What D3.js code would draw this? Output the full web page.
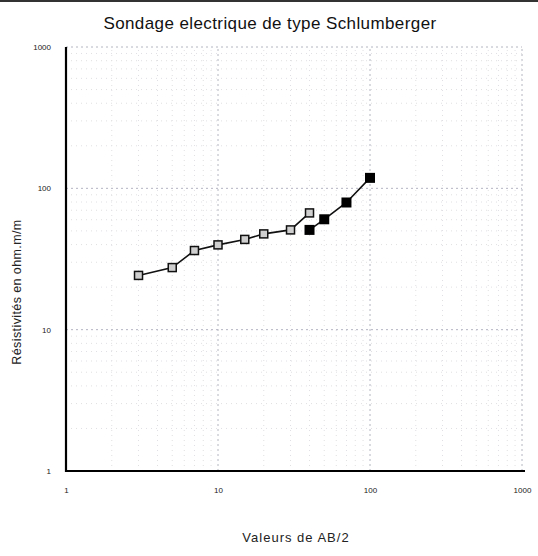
<!DOCTYPE html>
<html>
<head>
<meta charset="utf-8">
<script src="https://cdn.jsdelivr.net/npm/d3@7"></script>
<style>
  body { margin: 0; background: #fff; }
  svg { display: block; font-family: "Liberation Sans", Arial, sans-serif; }
  .grid line { stroke: #e0e0e4; stroke-width: 1; stroke-dasharray: 1,4; }
  .grid .major { stroke: #b4b4c2; stroke-dasharray: 2,3; }
  .axis text { font-size: 8px; fill: #222; }
  .line { fill: none; stroke: #111; stroke-width: 1.6; }
</style>
</head>
<body>
<div id="chart"></div>
<script>
var ab2Series1 = [3, 5, 7, 10, 15, 20, 30, 40];
var rhoSeries1 = [24.2, 27.5, 36.3, 39.8, 43.5, 47.6, 50.8, 67];
var ab2Series2 = [40, 50, 70, 100];
var rhoSeries2 = [50.8, 60.4, 79.4, 118.6];
var xTicks = [1, 10, 100, 1000];
var yTicks = [1, 10, 100, 1000];

var width = 538, height = 556;
var svg = d3.select("#chart").append("svg")
    .attr("width", width).attr("height", height);

// scan edge at the top
svg.append("rect").attr("x", 0).attr("y", 0).attr("width", width).attr("height", 2)
    .attr("fill", "#333");

var x = d3.scaleLog().domain([1, 1000]).range([66, 522]);
var y = d3.scaleLog().domain([1, 1000]).range([471, 47]);

// log grid, minor lines at 2..9 of each decade
var minor = [];
[1, 10, 100].forEach(function(d) {
    for (var k = 1; k < 10; k++) minor.push(d * k);
});
minor.push(1000);

var grid = svg.append("g").attr("class", "grid");
grid.selectAll(".vx").data(minor.filter(function(v) { return v > 1; })).enter()
    .append("line")
    .attr("class", function(v) { return xTicks.indexOf(v) > -1 ? "major" : "minor"; })
    .attr("x1", function(v) { return x(v); }).attr("x2", function(v) { return x(v); })
    .attr("y1", y(1)).attr("y2", y(1000));
grid.selectAll(".hy").data(minor.filter(function(v) { return v > 1; })).enter()
    .append("line")
    .attr("class", function(v) { return yTicks.indexOf(v) > -1 ? "major" : "minor"; })
    .attr("x1", x(1)).attr("x2", x(1000))
    .attr("y1", function(v) { return y(v); }).attr("y2", function(v) { return y(v); });

// axes
var xAxis = d3.axisBottom(x).tickValues(xTicks).tickSize(0).tickPadding(16)
    .tickFormat(d3.format("d"));
var yAxis = d3.axisLeft(y).tickValues(yTicks).tickSize(0).tickPadding(15)
    .tickFormat(d3.format("d"));
svg.append("g").attr("class", "axis").attr("transform", "translate(0," + y(1) + ")").call(xAxis);
svg.append("g").attr("class", "axis").attr("transform", "translate(" + x(1) + ",0)").call(yAxis);
svg.selectAll(".axis .domain").remove();
svg.append("path").attr("fill", "none").attr("stroke", "#000").attr("stroke-width", 2.2)
    .attr("d", "M" + x(1) + "," + y(1000) + "V" + y(1) + "H" + (x(1000) + 3));

// series
var line = d3.line()
    .x(function(d) { return x(d[0]); })
    .y(function(d) { return y(d[1]); });

var pts1 = d3.zip(ab2Series1, rhoSeries1);
var pts2 = d3.zip(ab2Series2, rhoSeries2);

svg.append("path").attr("class", "line").attr("d", line(pts1));
svg.append("path").attr("class", "line").attr("d", line(pts2));

var s = 8;
svg.selectAll(".m1").data(pts1).enter().append("rect")
    .attr("x", function(d) { return x(d[0]) - s / 2; })
    .attr("y", function(d) { return y(d[1]) - s / 2; })
    .attr("width", s).attr("height", s)
    .attr("fill", "#cfcfcf").attr("stroke", "#111").attr("stroke-width", 1.5);
svg.selectAll(".m2").data(pts2).enter().append("rect")
    .attr("x", function(d) { return x(d[0]) - s / 2 - 1; })
    .attr("y", function(d) { return y(d[1]) - s / 2 - 1; })
    .attr("width", s + 2).attr("height", s + 2)
    .attr("fill", "#000");

// titles
svg.append("text").attr("x", 270).attr("y", 29).attr("text-anchor", "middle")
    .style("font-size", "17px").style("letter-spacing", "0.4px").style("fill", "#111")
    .text("Sondage electrique de type Schlumberger");
svg.append("text").attr("text-anchor", "middle")
    .attr("transform", "translate(21,292)rotate(-90)")
    .style("font-size", "12.5px").style("letter-spacing", "0.4px").style("fill", "#222")
    .text("Résistivités en ohm.m/m");
svg.append("text").attr("x", 296).attr("y", 542).attr("text-anchor", "middle")
    .style("font-size", "13px").style("letter-spacing", "1px").style("fill", "#222")
    .text("Valeurs de AB/2");
</script>
</body>
</html>
